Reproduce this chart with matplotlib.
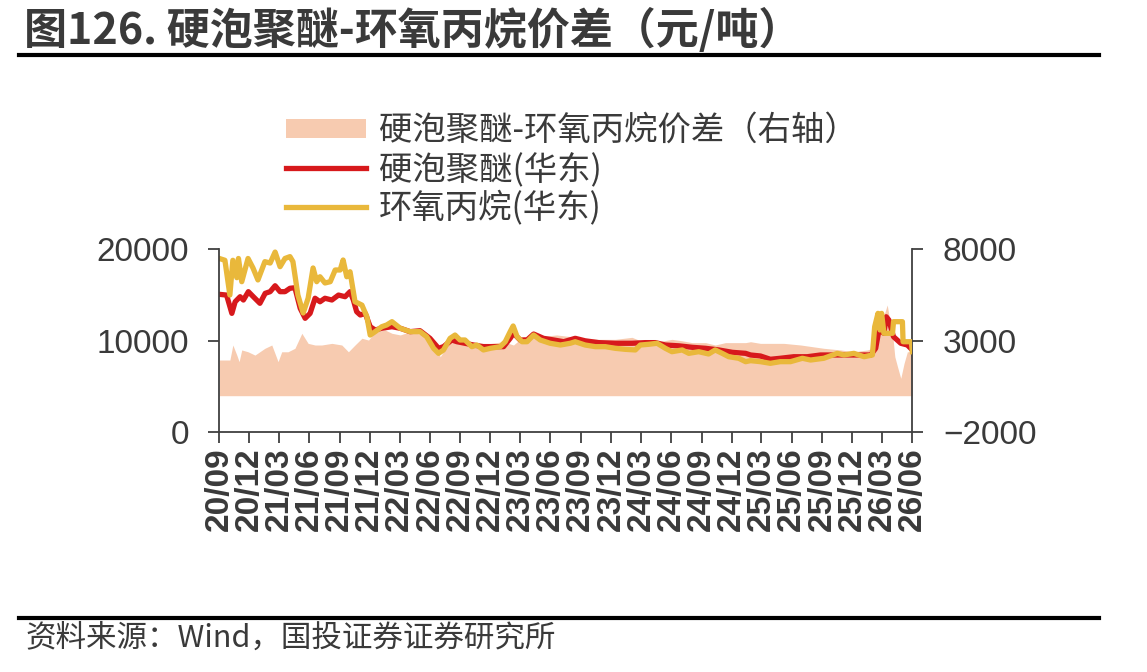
import matplotlib
matplotlib.use("Agg")
import matplotlib.pyplot as plt
import matplotlib.dates as mdates
import pandas as pd
from matplotlib.lines import Line2D

# ---------------- data ----------------
po_dates = ["2020-09-01","2020-09-18","2020-10-03","2020-10-12","2020-10-24","2020-10-29","2020-11-08",
            "2020-11-27","2020-12-12","2020-12-27","2021-01-17","2021-02-02","2021-02-17","2021-03-04",
            "2021-03-19","2021-04-03","2021-04-12","2021-04-27","2021-05-13","2021-05-28","2021-06-12",
            "2021-06-23","2021-07-03","2021-07-18","2021-08-03","2021-08-18","2021-09-02","2021-09-11",
            "2021-09-22","2021-10-02","2021-10-17","2021-10-27","2021-11-07","2021-11-22","2021-12-02",
            "2021-12-17","2022-01-06","2022-01-21","2022-02-06","2022-03-03","2022-04-02","2022-05-02",
            "2022-05-22","2022-06-12","2022-06-27","2022-07-12","2022-08-01","2022-08-16","2022-08-31",
            "2022-09-15","2022-10-06","2022-10-21","2022-11-10","2022-12-01","2022-12-31","2023-01-15",
            "2023-01-30","2023-02-08","2023-02-20","2023-03-07","2023-03-22","2023-04-11","2023-05-01",
            "2023-05-31","2023-07-01","2023-07-31","2023-08-15","2023-09-14","2023-10-15","2023-11-14",
            "2023-12-14","2024-01-13","2024-02-13","2024-02-28","2024-03-25","2024-04-19","2024-05-14",
            "2024-06-03","2024-07-04","2024-07-24","2024-08-23","2024-09-22","2024-10-12","2024-11-02",
            "2024-11-22","2024-12-22","2025-01-12","2025-01-27","2025-02-26","2025-03-28","2025-04-27",
            "2025-05-28","2025-07-03","2025-07-28","2025-09-06","2025-10-17","2025-11-06","2025-12-06",
            "2026-01-06","2026-01-31","2026-02-07","2026-02-17","2026-02-23","2026-02-28","2026-03-07",
            "2026-04-02","2026-04-05","2026-05-02","2026-05-04","2026-05-29","2026-06-01"]
po_values = [19000,18800,15000,18800,16900,19000,16460,
             19000,17960,16650,18650,18500,19700,18100,
             19000,19200,18650,15000,13040,14650,17960,
             16460,17000,16320,16460,17740,17740,18830,
             17000,17550,14270,14100,13900,12630,10630,
             11000,11540,11730,12090,11370,11000,11000,
             10450,9180,8630,9000,10270,10630,10090,
             10090,9360,9540,9000,9180,9360,9900,
             11000,11620,10450,9900,9900,10630,10090,
             9730,9540,9730,9900,9540,9360,9360,
             9180,9070,9000,9540,9620,9730,9180,
             8810,9000,8630,8810,8560,9000,8630,
             8260,8090,7720,7830,7720,7540,7720,
             7720,8090,7900,8090,8630,8450,8630,
             8260,8450,11540,13000,11180,13000,10820,
             10820,12090,12090,9900,9900,8810]

pu_dates = ["2020-09-01","2020-09-23","2020-10-09","2020-10-19","2020-11-03","2020-11-13","2020-11-28",
            "2020-12-13","2021-01-02","2021-01-18","2021-02-02","2021-02-17","2021-03-04","2021-03-19",
            "2021-04-03","2021-04-18","2021-05-04","2021-05-19","2021-06-03","2021-06-18","2021-07-03",
            "2021-07-18","2021-08-08","2021-08-28","2021-09-17","2021-10-02","2021-10-12","2021-10-22",
            "2021-11-02","2021-11-17","2021-12-02","2021-12-17","2022-01-06","2022-02-06","2022-03-03",
            "2022-04-02","2022-05-02","2022-06-01","2022-06-27","2022-07-12","2022-08-06","2022-08-22",
            "2022-09-15","2022-10-11","2022-11-10","2022-12-11","2023-01-10","2023-01-30","2023-02-09",
            "2023-03-01","2023-03-22","2023-04-11","2023-05-11","2023-06-11","2023-07-11","2023-08-15",
            "2023-09-14","2023-10-25","2023-12-14","2024-02-03","2024-03-14","2024-04-14","2024-05-14",
            "2024-06-24","2024-08-03","2024-09-13","2024-10-23","2024-12-03","2025-01-12","2025-01-27",
            "2025-02-26","2025-03-28","2025-04-27","2025-06-07","2025-07-18","2025-08-27","2025-10-07",
            "2025-11-16","2025-12-26","2026-01-26","2026-02-10","2026-02-20","2026-03-07","2026-03-14",
            "2026-03-22","2026-04-02","2026-04-05","2026-04-27","2026-05-17","2026-06-01"]
pu_values = [15080,15000,13000,14270,14820,14460,15370,
             14820,14100,15190,15370,16020,15370,15370,
             15740,15800,13550,12460,13000,14650,14270,
             14650,14460,15000,14820,15370,14460,13180,
             12820,13000,11540,11180,11370,11540,11370,
             11000,11100,10270,9180,9360,10090,9900,
             9730,9540,9360,9360,9360,10270,10820,
             10090,10090,10740,10270,10090,9900,10270,
             10000,9800,9730,9730,9800,9800,9540,
             9450,9290,9180,9000,8740,8630,8450,
             8340,7980,8090,8260,8260,8450,8450,
             8450,8450,8450,9180,11180,10820,12630,
             12270,10820,10450,9730,9540,9000]

spread_dates = ["2020-09-01","2020-10-03","2020-10-12","2020-10-24","2020-10-31","2020-11-08","2020-11-27",
                "2020-12-18","2021-01-17","2021-02-07","2021-02-26","2021-03-09","2021-03-28","2021-04-18",
                "2021-05-09","2021-05-28","2021-06-18","2021-07-08","2021-08-08","2021-09-07","2021-09-27",
                "2021-10-17","2021-11-07","2021-11-27","2021-12-17","2022-01-16","2022-02-06","2022-03-03",
                "2022-04-02","2022-05-12","2022-06-22","2022-07-02","2022-08-01","2022-09-11","2022-10-31",
                "2022-12-01","2023-01-10","2023-02-09","2023-03-11","2023-05-01","2023-06-20","2023-07-31",
                "2023-08-15","2023-10-25","2023-12-14","2024-02-03","2024-03-14","2024-04-24","2024-06-03",
                "2024-07-04","2024-08-03","2024-09-13","2024-10-12","2024-11-12","2024-12-22","2025-01-12",
                "2025-01-27","2025-02-26","2025-05-08","2025-06-28","2025-09-06","2025-10-27","2025-12-06",
                "2026-01-16","2026-01-31","2026-02-15","2026-03-02","2026-03-09","2026-03-17","2026-03-23",
                "2026-04-02","2026-04-09","2026-04-17","2026-04-27","2026-05-07","2026-05-17","2026-06-01"]
spread_values = [1950,1950,2770,2220,1860,2500,2400,
                 2220,2590,2770,1860,2400,2400,2590,
                 3410,2860,2770,2770,2860,2770,2400,
                 2770,3140,3040,3500,3590,3410,3320,
                 3500,3320,2680,2130,2950,2950,2860,
                 2860,2950,2770,3230,3230,3320,3230,
                 3150,3080,3080,3190,2900,2950,3080,
                 3000,2900,2900,2770,2900,2900,2900,
                 2950,2860,2860,2770,2590,2500,2400,
                 2500,2590,3230,3960,4500,4960,4300,
                 3410,2130,1590,950,1770,2400,2400]

title_text = "图126. 硬泡聚醚-环氧丙烷价差（元/吨）"
source_text = "资料来源：Wind，国投证券证券研究所"
label_spread = "硬泡聚醚-环氧丙烷价差（右轴）"
label_pu = "硬泡聚醚(华东)"
label_po = "环氧丙烷(华东)"
left_ticks = [0, 10000, 20000]
right_ticks = [-2000, 3000, 8000]

# ---------------- style ----------------
C_FILL = "#F7CBB0"
C_RED = "#D7191C"
C_YEL = "#E9B83B"
C_AX = "#404040"
C_TXT = "#3a3a3a"
CJK = ["Noto Sans CJK SC", "DejaVu Sans"]
NUM = ["Liberation Sans", "DejaVu Sans"]

plt.rcParams["font.family"] = CJK

po_x = pd.to_datetime(po_dates)
pu_x = pd.to_datetime(pu_dates)
sp_x = pd.to_datetime(spread_dates)

fig = plt.figure(figsize=(11.47, 6.72), dpi=100)
ax = fig.add_axes([0.1912, 0.3567, 0.6042, 0.2723])
ax2 = ax.twinx()
ax.set_zorder(ax2.get_zorder() + 1)
ax.patch.set_visible(False)

fill = ax2.fill_between(sp_x, 0, spread_values, color=C_FILL, linewidth=0, label=label_spread)
l_pu, = ax.plot(pu_x, pu_values, color=C_RED, lw=3.8, label=label_pu, solid_joinstyle="round")
l_po, = ax.plot(po_x, po_values, color=C_YEL, lw=3.8, label=label_po, solid_joinstyle="round")

xmin, xmax = pd.Timestamp("2020-09-01"), pd.Timestamp("2026-06-01")
ax.set_xlim(xmin, xmax)
ax.set_ylim(0, 20000)
ax2.set_ylim(-2000, 8000)
ax.set_yticks(left_ticks)
ax2.set_yticks(right_ticks)

ax.xaxis.set_major_locator(mdates.MonthLocator(bymonth=[3, 6, 9, 12]))
ax.xaxis.set_major_formatter(mdates.DateFormatter("%y/%m"))

for a in (ax, ax2):
    for s in a.spines.values():
        s.set_color(C_AX)
        s.set_linewidth(1.3)
    a.spines["top"].set_visible(False)
ax.spines["right"].set_visible(False)
ax2.spines["left"].set_visible(False)
ax2.spines["bottom"].set_visible(False)

ax.tick_params(axis="y", direction="out", length=8, width=1.3, color=C_AX, pad=14,
               labelsize=24, labelcolor=C_TXT)
ax2.tick_params(axis="y", direction="out", length=8, width=1.3, color=C_AX, pad=14,
                labelsize=24, labelcolor=C_TXT)
ax.tick_params(axis="x", direction="out", length=8, width=1.3, color=C_AX, pad=3,
               labelsize=24, labelcolor=C_TXT, labelrotation=90)
for lab in ax.get_yticklabels() + ax2.get_yticklabels():
    lab.set_family(NUM)
for lab in ax.get_xticklabels():
    lab.set_family(NUM)
    lab.set_fontweight("bold")

# legend
leg = fig.legend([fill, l_pu, l_po], [label_spread, label_pu, label_po],
                 loc="upper left", bbox_to_anchor=(0.249, 0.832), bbox_transform=fig.transFigure,
                 frameon=False, fontsize=24, handlelength=2.4, handleheight=0.5,
                 handletextpad=0.4, labelspacing=0.12, borderpad=0, borderaxespad=0)
for t in leg.get_texts():
    t.set_color(C_TXT)

# title, rules and source
fig.text(0.021, 0.955, title_text, fontsize=31, fontweight="bold", color=C_TXT,
         va="center", ha="left", family=CJK)
fig.add_artist(Line2D([0.017, 0.958], [0.918, 0.918], color="black", lw=3, transform=fig.transFigure))
fig.add_artist(Line2D([0.017, 0.958], [0.080, 0.080], color="black", lw=3, transform=fig.transFigure))
fig.text(0.022, 0.050, source_text, fontsize=22, color=C_TXT, va="center", ha="left", family=CJK)

fig.savefig("out.png", dpi=100)
